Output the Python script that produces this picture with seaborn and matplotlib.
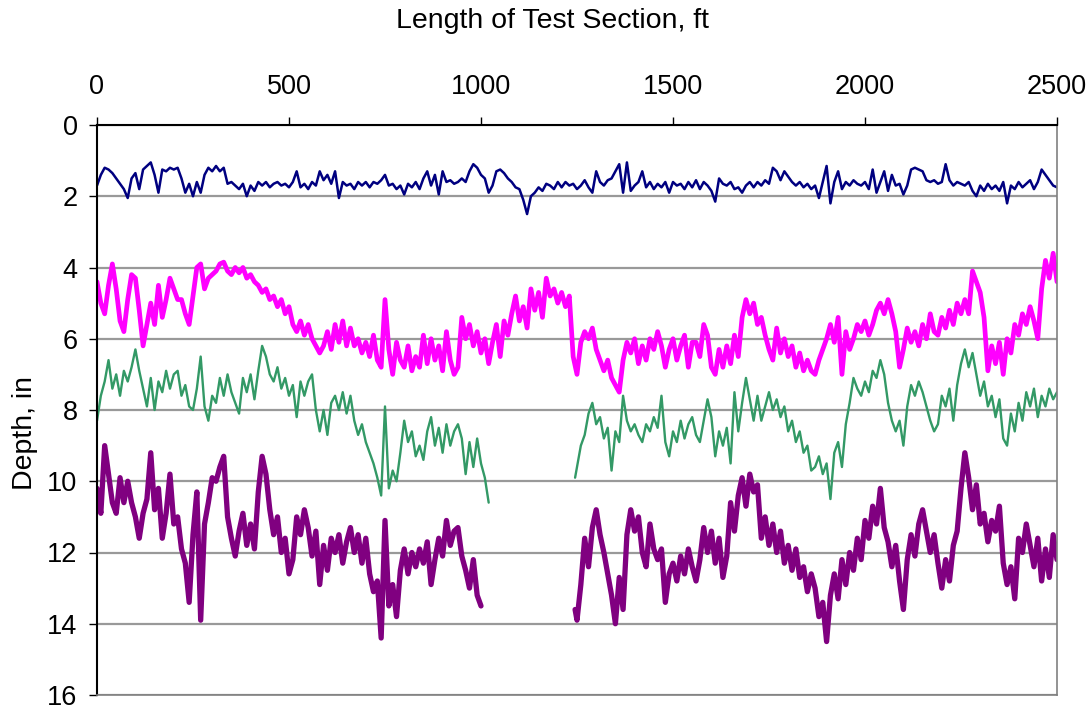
import numpy as np
import matplotlib
matplotlib.use("Agg")
import matplotlib.pyplot as plt
import seaborn as sns

# Station positions along the test section (ft)
stations = np.arange(0, 2501, 10)

# Depth readings (in) for each profile
navy_depth = [
    1.7, 1.4, 1.2, 1.25, 1.35, 1.5, 1.65, 1.8, 2.05, 1.5, 1.35, 1.8, 1.25, 1.15, 1.05, 1.4,
    1.9, 1.25, 1.3, 1.2, 1.25, 1.2, 1.5, 1.9, 1.65, 2.0, 1.6, 1.9, 1.4, 1.2, 1.3,
    1.15, 1.3, 1.2, 1.65, 1.6, 1.7, 1.8, 1.65, 2.0, 1.7,
    1.85, 1.6, 1.7, 1.6, 1.75, 1.65, 1.6, 1.7, 1.65, 1.75,
    1.6, 1.3, 1.75, 1.65, 1.8, 1.6, 1.7, 1.3, 1.55, 1.4,
    1.65, 1.3, 2.05, 1.6, 1.7, 1.65, 1.8, 1.6, 1.7, 1.6,
    1.75, 1.6, 1.65, 1.55, 1.4, 1.7, 1.65, 1.8, 1.7, 1.95,
    1.65, 1.75, 1.6, 1.8, 1.5, 1.3, 1.7, 1.4, 1.95, 1.3,
    1.6, 1.55, 1.65, 1.6, 1.5, 1.6, 1.3, 1.1, 1.2, 1.4,
    1.5, 1.9, 1.7, 1.3, 1.25, 1.35, 1.5, 1.6, 1.75, 1.8,
    2.1, 2.5, 2.0, 1.9, 1.75, 1.85, 1.65, 1.7, 1.8, 1.6,
    1.75, 1.6, 1.7, 1.65, 1.8,
    1.7, 1.55, 1.75, 1.9, 1.3,
    1.6, 1.7, 1.55, 1.5, 1.3, 1.1, 1.9, 1.05, 1.85, 1.7,
    1.6, 1.3, 1.75, 1.6, 1.8, 1.65, 1.75, 1.6, 1.9, 1.6,
    1.7, 1.65, 1.8, 1.6, 1.75, 1.55, 1.8, 1.6, 1.7, 1.85,
    2.15, 1.5, 1.65, 1.7, 1.6, 1.8, 1.75, 1.9, 1.7, 1.6,
    1.75, 1.6, 1.7, 1.55, 1.65, 1.2, 1.3, 1.55, 1.3, 1.45,
    1.6, 1.7, 1.6, 1.75, 1.65, 1.8, 1.7, 2.05, 1.6, 1.15,
    2.2, 1.6, 1.3, 1.8, 1.6, 1.7, 1.55, 1.65, 1.7, 1.6,
    1.8, 1.25, 1.9, 1.6, 1.3, 1.85, 1.4, 1.7, 1.65, 1.95,
    1.7, 1.25, 1.2, 1.25, 1.3, 1.55, 1.6, 1.55, 1.65, 1.6,
    1.1, 1.55, 1.7, 1.6, 1.65, 1.7, 1.6, 1.85, 2.0, 1.7,
    1.85, 1.65, 1.8, 1.7, 1.85, 1.6, 2.2, 1.7, 1.8, 1.6,
    1.75, 1.65, 1.55, 1.8, 1.6, 1.25, 1.4, 1.55, 1.7, 1.75,
]

magenta_depth = [
    4.4, 5.0, 5.3, 4.5, 3.9, 4.6, 5.5, 5.8, 4.9, 4.2, 4.3, 5.2, 6.2, 5.6, 5.0, 5.6,
    4.5, 5.4, 4.9, 4.3, 4.6, 4.9, 4.9, 5.3, 5.6, 4.8, 4.0, 3.9, 4.6, 4.3, 4.2,
    4.1, 3.9, 3.85, 4.1, 4.2, 4.0, 4.15, 4.0, 4.3, 4.2,
    4.4, 4.5, 4.7, 4.6, 4.9, 4.8, 5.1, 4.9, 5.3, 5.1,
    5.6, 5.8, 5.5, 5.9, 5.6, 6.0, 6.2, 6.4, 6.2, 5.8, 6.3,
    5.6, 6.1, 5.5, 6.2, 5.7, 6.2, 6.0, 6.4, 6.1, 6.5,
    5.9, 6.6, 6.8, 4.9, 6.3, 7.0, 6.1, 6.6, 6.8, 6.2,
    6.9, 6.5, 6.8, 5.9, 6.7, 6.0, 6.6, 6.2, 6.9, 5.8, 6.6, 7.0,
    6.8, 5.4, 6.0, 5.6, 6.2, 5.8, 6.4, 6.0, 6.7, 6.1,
    5.6, 6.5, 5.5, 5.9, 5.3, 4.8, 5.5, 5.1, 5.7, 4.6,
    5.2, 4.7, 5.4, 4.3, 4.8, 4.6, 5.0, 4.7, 5.1, 4.8, 6.5,
    7.0, 6.1, 5.8, 6.0, 5.7, 6.3, 6.6, 6.9, 6.6, 7.1,
    7.3, 7.5, 6.6, 6.1, 6.4, 6.0, 6.7, 6.2, 6.6, 6.0,
    6.3, 5.8, 6.2, 6.8, 6.3, 6.0, 6.6, 6.2, 5.9, 6.8, 6.1,
    6.1, 6.5, 5.6, 5.9, 6.8, 7.0, 6.3, 6.8, 6.2, 6.7,
    5.9, 6.5, 5.4, 4.9, 5.3, 5.0, 5.6, 5.4, 5.9, 6.3,
    6.6, 5.7, 6.4, 6.0, 6.5, 6.2, 6.8, 6.4, 6.9, 6.6, 6.9,
    7.0, 6.6, 6.3, 6.0, 5.6, 6.1, 5.4, 7.0, 5.8, 6.3,
    6.0, 5.6, 5.8, 5.5, 5.9, 5.6, 5.2, 5.0, 5.3, 4.9,
    5.3, 5.8, 6.8, 6.3, 5.7, 6.1, 5.8, 6.2, 5.6, 6.0, 5.3, 5.8,
    5.9, 5.4, 5.7, 5.2, 5.6, 5.0, 5.3, 4.9, 5.3, 4.1,
    4.4, 4.7, 5.4, 6.9, 6.2, 6.7, 6.1, 7.0, 6.0, 6.4,
    5.6, 5.9, 5.3, 5.6, 5.1, 5.5, 6.0, 4.6, 3.8, 4.3, 3.6, 4.4,
]

# Green profile: two runs with a gap in the middle of the section
green_x_a = np.arange(0, 1021, 10)
green_depth_a = [
    8.3, 7.6, 7.2, 6.6, 7.4, 7.0, 7.6, 6.9, 7.2, 6.8, 6.3, 6.9, 7.4, 7.9, 7.1, 8.0,
    7.2, 7.5, 6.9, 7.4, 7.0, 6.9, 7.6, 7.3, 7.9, 8.0, 7.4, 6.5, 7.9, 8.3, 7.6,
    7.8, 7.1, 7.6, 7.0, 7.5, 7.8, 8.1, 7.1, 7.5, 7.0,
    7.7, 6.9, 6.2, 6.5, 7.0, 7.2, 6.8, 7.4, 7.1, 7.6,
    7.3, 8.2, 7.2, 7.6, 7.2, 7.0, 8.0, 8.6, 8.0, 8.7, 7.8,
    7.6, 8.0, 7.5, 8.1, 7.6, 8.3, 8.7, 8.4, 8.9, 9.2,
    9.5, 9.9, 10.4, 7.9, 10.2, 9.7, 10.0, 9.2, 8.3, 8.9,
    8.6, 9.3, 9.0, 9.4, 8.6, 8.2, 9.0, 8.5, 9.2, 8.4, 9.0, 8.6,
    8.4, 8.8, 9.8, 8.9, 9.6, 8.8, 9.5, 9.9, 10.6,
]
green_x_b = np.concatenate([[1245], np.arange(1250, 2501, 10)])
green_depth_b = [
    9.9,
    9.6, 9.0, 8.7, 8.1, 7.8, 8.4, 8.2, 8.8, 8.5, 9.7,
    8.6, 8.9, 7.6, 8.3, 8.6, 8.4, 8.7, 8.9, 8.4, 8.6,
    8.2, 8.5, 7.6, 8.9, 9.3, 8.6, 8.9, 8.3, 8.8, 8.4, 8.2,
    8.7, 8.9, 8.3, 7.7, 8.2, 9.3, 8.6, 9.0, 8.5, 9.5,
    7.5, 8.6, 7.8, 7.1, 7.7, 8.3, 7.6, 8.3, 7.9, 7.5,
    8.0, 7.7, 8.2, 7.9, 8.6, 8.3, 8.9, 8.6, 9.2, 9.0, 9.7,
    9.6, 9.3, 9.8, 9.5, 10.5, 9.2, 8.9, 9.6, 8.4, 7.8,
    7.1, 7.4, 7.6, 7.2, 7.5, 6.9, 7.1, 6.6, 7.0, 7.8,
    8.3, 8.6, 8.3, 9.0, 7.9, 7.3, 7.6, 7.2, 7.5, 7.9, 8.3, 8.6,
    8.4, 7.6, 7.9, 7.4, 8.3, 7.3, 6.7, 6.3, 6.8, 6.4,
    7.0, 7.6, 7.2, 7.9, 7.6, 8.2, 7.7, 8.8, 9.0, 8.1,
    8.6, 7.8, 8.3, 7.5, 7.9, 7.4, 8.2, 7.6, 7.9, 7.4, 7.7, 7.5,
]

# Purple profile: two runs with a gap in the middle of the section
purple_x_a = np.arange(0, 1001, 10)
purple_depth_a = [
    10.2, 10.9, 9.0, 9.8, 10.6, 10.9, 9.9, 10.6, 10.0, 10.6, 11.0, 11.6, 10.9, 10.5,
    9.2, 10.8, 10.2, 11.6, 10.9, 9.8, 11.2, 11.0, 11.9, 12.3, 13.4, 11.5, 10.3, 13.9,
    11.2, 10.6, 9.9,
    10.0, 9.6, 9.3, 11.0, 11.6, 12.1, 11.4, 10.9, 11.8, 11.2,
    11.9, 10.3, 9.3, 9.8, 10.8, 11.5, 11.0, 12.0, 11.6, 12.6,
    12.2, 11.0, 11.5, 10.8, 11.3, 12.1, 11.4, 12.9, 11.8, 12.5, 11.6,
    12.0, 11.5, 12.3, 11.7, 11.3, 12.0, 11.5, 12.3, 11.6, 12.6,
    13.1, 12.8, 14.4, 11.1, 13.5, 12.9, 13.8, 12.5, 11.9, 12.6,
    12.0, 12.4, 11.9, 12.3, 11.7, 12.9, 12.2, 11.6, 12.1, 11.1, 11.8, 11.4,
    11.3, 12.1, 12.5, 13.0, 12.2, 13.2, 13.5,
]
purple_x_b = np.concatenate([[1245], np.arange(1250, 2501, 10)])
purple_depth_b = [
    13.6,
    13.9, 12.9, 11.6, 12.4, 11.3, 10.8, 11.5, 12.0, 12.6, 13.2,
    14.0, 12.7, 13.6, 11.5, 10.8, 11.4, 11.0, 12.0, 12.4, 11.2,
    11.9, 12.2, 11.9, 13.4, 12.6, 12.3, 12.8, 12.1, 12.6, 11.9, 12.4,
    12.8, 12.2, 11.3, 12.0, 11.4, 12.3, 11.6, 12.7, 12.1, 10.6,
    11.4, 10.4, 9.9, 10.7, 9.8, 10.3, 10.1, 11.6, 11.0, 11.8,
    11.2, 12.0, 11.4, 12.3, 11.8, 12.5, 11.9, 12.7, 12.4, 13.1, 12.6,
    13.0, 13.8, 13.4, 14.5, 13.2, 12.6, 13.3, 12.2, 12.9, 12.0,
    12.5, 11.6, 12.2, 11.1, 11.6, 10.7, 11.2, 10.2, 11.3, 11.7,
    12.4, 11.8, 12.8, 13.6, 12.2, 11.5, 12.1, 11.2, 10.8, 11.4, 12.0, 11.5,
    12.3, 13.0, 12.2, 12.8, 11.8, 11.4, 10.2, 9.2, 9.9, 10.8,
    10.1, 11.2, 10.9, 11.7, 11.1, 11.4, 10.7, 12.3, 12.9, 12.4,
    13.3, 11.6, 12.0, 11.2, 11.8, 12.4, 11.6, 12.8, 11.9, 12.7, 11.5, 12.2,
]

x_ticks = [0, 500, 1000, 1500, 2000, 2500]
y_ticks = [0, 2, 4, 6, 8, 10, 12, 14, 16]

sns.set_theme(style="white")
plt.rcParams["font.family"] = ["Liberation Sans", "DejaVu Sans"]
plt.rcParams["text.color"] = "black"
plt.rcParams["axes.labelcolor"] = "black"
plt.rcParams["xtick.color"] = "black"
plt.rcParams["ytick.color"] = "black"

fig = plt.figure(figsize=(10.9, 7.09), dpi=100)
ax = fig.add_axes([97 / 1090, 14 / 709, 960 / 1090, 570 / 709])

profiles = [
    (stations, navy_depth, "#000080", 1.8),
    (stations, magenta_depth, "#FF00FF", 3.4),
    (green_x_a, green_depth_a, "#339966", 1.7),
    (green_x_b, green_depth_b, "#339966", 1.7),
    (purple_x_a, purple_depth_a, "#800080", 3.8),
    (purple_x_b, purple_depth_b, "#800080", 3.8),
]
for xs, ys, color, lw in profiles:
    sns.lineplot(x=xs, y=ys, ax=ax, color=color, linewidth=lw,
                 estimator=None, sort=False, legend=False)

ax.set_xlim(0, 2500)
ax.set_ylim(16, 0)
ax.set_xticks(x_ticks)
ax.set_yticks(y_ticks)
ax.set_xticklabels([str(v) for v in x_ticks])
ax.set_yticklabels([str(v) for v in y_ticks])

ax.xaxis.tick_top()
ax.xaxis.set_label_position("top")
ax.yaxis.grid(True, color="#999999", linewidth=1.6)
ax.xaxis.grid(False)
ax.set_axisbelow(True)

ax.tick_params(axis="x", which="major", top=True, bottom=False, direction="out",
               length=6, width=1, colors="black", labelsize=19.5, pad=12)
ax.tick_params(axis="y", which="major", left=True, direction="out",
               length=6, width=1, colors="black", labelsize=19.5, pad=8)

for side in ("top", "left"):
    ax.spines[side].set_color("black")
    ax.spines[side].set_linewidth(1.5)
for side in ("right", "bottom"):
    ax.spines[side].set_color("#808080")
    ax.spines[side].set_linewidth(1.2)

ax.set_xlabel("Length of Test Section, ft", fontsize=20.5, color="black")
ax.set_ylabel("Depth, in", fontsize=20.5, color="black")
ax.xaxis.set_label_coords(0.475, 1.183)
ax.yaxis.set_label_coords(-0.0755, 0.46)
ax.xaxis.label.set_verticalalignment("center")
ax.yaxis.label.set_verticalalignment("center")

fig.savefig("out.png", dpi=100)
